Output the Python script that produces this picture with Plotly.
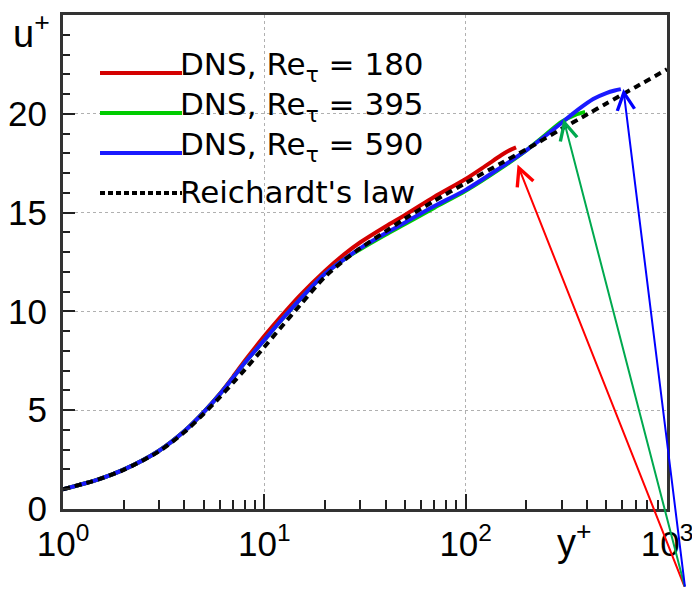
import numpy as np
import plotly.graph_objects as go

# ---- data ----
yp_180 = [1, 1.5, 2, 3, 4, 5, 6, 7, 8, 10, 12, 15, 20, 25, 30, 40, 50, 70, 100, 125, 150, 165, 178]
u_180 = [1.0, 1.5, 1.99, 2.95, 3.93, 4.9, 5.82, 6.7, 7.5, 8.75, 9.7, 10.8, 12.05, 12.9, 13.5,
         14.3, 14.88, 15.8, 16.7, 17.35, 17.9, 18.15, 18.3]

yp_395 = [1, 1.5, 2, 3, 4, 5, 6, 7, 8, 10, 12, 15, 20, 25, 30, 40, 50, 70, 100, 150, 200, 250,
          300, 350, 392]
u_395 = [1.0, 1.5, 1.99, 2.95, 3.93, 4.9, 5.8, 6.65, 7.4, 8.55, 9.5, 10.6, 11.9, 12.65, 13.15,
         13.88, 14.42, 15.25, 16.1, 17.25, 18.15, 18.95, 19.6, 19.95, 20.1]

yp_590 = [1, 1.5, 2, 3, 4, 5, 6, 7, 8, 10, 12, 15, 20, 25, 30, 40, 50, 70, 100, 150, 200, 250,
          300, 360, 430, 500, 550, 590]
u_590 = [1.0, 1.5, 1.99, 2.95, 3.93, 4.9, 5.8, 6.65, 7.4, 8.55, 9.5, 10.6, 11.9, 12.65, 13.2,
         13.95, 14.5, 15.33, 16.15, 17.3, 18.15, 18.9, 19.55, 20.2, 20.75, 21.05, 21.18, 21.25]

yp_law = [1, 1.5, 2, 3, 4, 5, 6, 7, 8, 10, 12, 15, 20, 25, 30, 40, 50, 70, 100, 150, 200, 300,
          400, 500, 700, 1000]
u_law = [1.0, 1.5, 1.98, 2.92, 3.88, 4.82, 5.65, 6.4, 7.05, 8.2, 9.15, 10.3, 11.75, 12.6, 13.2,
         14.05, 14.7, 15.6, 16.5, 17.5, 18.2, 19.24, 19.96, 20.52, 21.36, 22.25]

series_names = ["DNS, Re<sub>τ</sub> = 180", "DNS, Re<sub>τ</sub> = 395",
                "DNS, Re<sub>τ</sub> = 590", "Reichardt's law"]
series_colors = ["#d40000", "#00cc00", "#1a1aff", "#000000"]

# arrows pointing at the end of each DNS profile
arrow_head_x = [181, 306, 607]
arrow_head_y = [17.43, 19.74, 21.26]
arrow_tail_x = 1230
arrow_tail_y = -4.0
arrow_colors = ["#ff0000", "#00a94f", "#0000ff"]

x_tickvals = [1, 10, 100, 1000]
x_ticktext = ["10<sup>0</sup>", "10<sup>1</sup>", "10<sup>2</sup>", "10<sup>3</sup>"]
y_tickvals = [0, 5, 10, 15, 20]
y_ticktext = ["0", "5", "10", "15", "20"]

# ---- layout geometry ----
W, H = 692, 590
ML, MR, MT, MB = 63, 25, 15, 81
PW, PH = W - ML - MR, H - MT - MB


def px(xp):
    return (xp - ML) / PW


def py(yp):
    return (H - MB - yp) / PH


fig = go.Figure()
data = [(yp_180, u_180), (yp_395, u_395), (yp_590, u_590)]
for i, (xs, ys) in enumerate(data):
    fig.add_trace(go.Scatter(x=xs, y=ys, mode="lines", name=series_names[i],
                             line=dict(color=series_colors[i], width=4, shape="spline",
                                       smoothing=0.8),
                             showlegend=False))
fig.add_trace(go.Scatter(x=yp_law, y=u_law, mode="lines", name=series_names[3],
                         line=dict(color="#000000", width=4, dash="7px,5px", shape="spline",
                                   smoothing=0.8),
                         showlegend=False))

# arrows
for hx, hy, c in zip(arrow_head_x, arrow_head_y, arrow_colors):
    fig.add_annotation(x=np.log10(hx), y=hy, xref="x", yref="y",
                       ax=np.log10(arrow_tail_x), ay=arrow_tail_y, axref="x", ayref="y",
                       text="", showarrow=True, arrowhead=5, arrowsize=1.7,
                       arrowwidth=2, arrowcolor=c, standoff=0, startstandoff=0)

# manual legend
leg_rows = [73, 113, 153, 193]
for i, yr in enumerate(leg_rows):
    fig.add_shape(type="line", xref="paper", yref="paper",
                  x0=px(100), x1=px(182), y0=py(yr), y1=py(yr),
                  line=dict(color=series_colors[i], width=4,
                            dash="solid" if i < 3 else "5px,3px"))
    fig.add_annotation(xref="paper", yref="paper", x=px(178), y=py(yr - 7 if i < 3 else yr - 1),
                       text=series_names[i], showarrow=False, xanchor="left", yanchor="middle",
                       font=dict(family="DejaVu Sans", size=31, color="black"))

# axis titles
fig.add_annotation(xref="paper", yref="paper", x=px(31), y=py(31), text="u<sup>+</sup>",
                   showarrow=False, xanchor="center", yanchor="middle",
                   font=dict(family="Liberation Sans", size=38, color="black"))
fig.add_annotation(xref="paper", yref="paper", x=px(574), y=py(540), text="y<sup>+</sup>",
                   showarrow=False, xanchor="center", yanchor="middle",
                   font=dict(family="Liberation Sans", size=38, color="black"))

fig.update_layout(
    width=W, height=H, autosize=False,
    margin=dict(l=ML, r=MR, t=MT, b=MB, autoexpand=False),
    paper_bgcolor="white", plot_bgcolor="white",
    showlegend=False,
    font=dict(family="Liberation Sans", size=35, color="black"),
)
fig.update_xaxes(type="log", range=[0, 3], tickmode="array", tickvals=x_tickvals,
                 ticktext=x_ticktext, ticks="inside", ticklen=15, tickwidth=2,
                 tickcolor="#222", showline=True, linecolor="#333", linewidth=3, mirror=True,
                 showgrid=True, gridcolor="#b0b0b0", griddash="dot", gridwidth=1,
                 zeroline=False, ticklabelstandoff=2, ticklabeloverflow="allow",
                 automargin=False,
                 minor=dict(ticks="inside", ticklen=9, tickwidth=1.5, tickcolor="#222",
                            dtick="D1", showgrid=False),
                 tickfont=dict(family="Liberation Sans", size=35, color="black"))
fig.update_yaxes(range=[0, 25], tickmode="array", tickvals=y_tickvals, ticktext=y_ticktext,
                 ticks="inside", ticklen=12, tickwidth=2, tickcolor="#222",
                 showline=True, linecolor="#333", linewidth=3, mirror=True,
                 showgrid=True, gridcolor="#b0b0b0", griddash="dot", gridwidth=1,
                 zeroline=False, ticklabelstandoff=6, ticklabeloverflow="allow",
                 automargin=False,
                 minor=dict(ticks="inside", ticklen=7, tickwidth=1.5, tickcolor="#222",
                            tickmode="linear", tick0=0, dtick=1, showgrid=False),
                 tickfont=dict(family="Liberation Sans", size=35, color="black"))

fig.write_html("out.html")
